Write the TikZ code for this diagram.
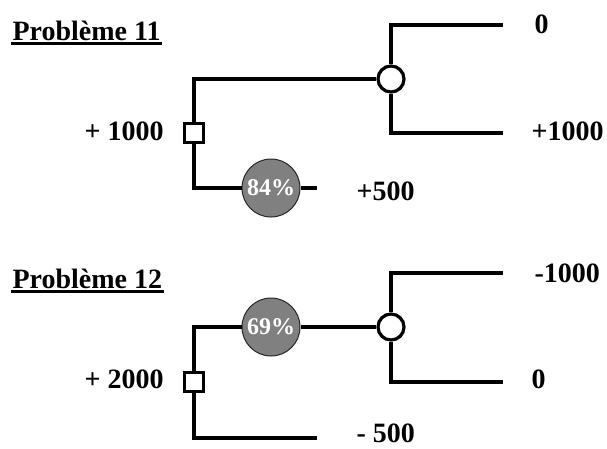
\documentclass[tikz,border=0pt]{standalone}
\usepackage{fontspec}
\setmainfont{Liberation Serif}
\begin{document}
\begin{tikzpicture}[x=1pt,y=-1pt,
  line width=3.2pt,
  decision/.style={draw, rectangle, minimum size=19pt, inner sep=0pt, line width=3.2pt, fill=white},
  chance/.style={draw, circle, minimum size=26pt, inner sep=0pt, line width=3.2pt, fill=white},
  prob/.style={draw=black!85, circle, fill=black!50, minimum size=58pt, inner sep=0pt, line width=1pt,
    text=white, font=\bfseries\fontsize{24}{24}\selectfont},
  lbl/.style={font=\bfseries\fontsize{28}{28}\selectfont, inner sep=0pt, anchor=base west},
  ttl/.style={font=\bfseries\fontsize{28}{28}\selectfont, inner sep=0pt, anchor=base west},
  uline/.style={line width=2.5pt}
]
\useasboundingbox (0,0) rectangle (607,448);

% ---------- Problème 11 ----------
\node[ttl] (t1) at (11,40.5) {Problème 11};
\draw[uline] ([yshift=-3pt]t1.base west) -- ([yshift=-3pt]t1.base east);

\node[decision] (sq1) at (194,133) {};
\node[chance] (c1) at (391,79) {};
\node[prob] (p1) at (271,188) {84\%};
\coordinate (e1) at (317,188);
\coordinate (e2) at (503,25);
\coordinate (e3) at (503,133);

\draw (sq1.north) |- (c1.west);
\draw (sq1.south) |- (p1.west);
\draw (p1.east) -- (e1);
\draw (c1.north) |- (e2);
\draw (c1.south) |- (e3);

\node[lbl] (v1) at (533,33) {0};
\node[lbl] (v2) at (530,140) {+1000};
\node[lbl] (v3) at (355,200) {+500};
\node[lbl] (v4) at (83,140) {+ 1000};

% ---------- Problème 12 ----------
\node[ttl] (t2) at (11,288.5) {Problème 12};
\draw[uline] ([yshift=-3pt]t2.base west) -- ([yshift=-3pt]t2.base east);

\node[decision] (sq2) at (194,382) {};
\node[prob] (p2) at (271,327) {69\%};
\node[chance] (c2) at (391,327) {};
\coordinate (e4) at (317,438);
\coordinate (e5) at (503,273);
\coordinate (e6) at (503,382);

\draw (sq2.north) |- (p2.west);
\draw (p2.east) -- (c2.west);
\draw (sq2.south) |- (e4);
\draw (c2.north) |- (e5);
\draw (c2.south) |- (e6);

\node[lbl] (w1) at (533,282) {-1000};
\node[lbl] (w2) at (530,388) {0};
\node[lbl] (w3) at (355,442) {- 500};
\node[lbl] (w4) at (83,388) {+ 2000};
\end{tikzpicture}
\end{document}
